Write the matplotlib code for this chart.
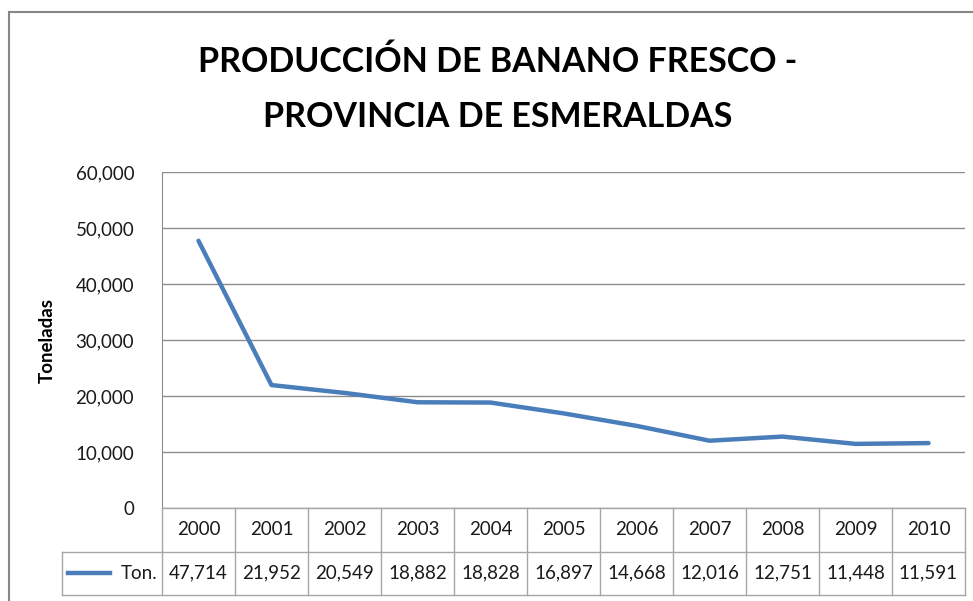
import matplotlib.pyplot as plt
from matplotlib.patches import Rectangle

years = ['2000', '2001', '2002', '2003', '2004', '2005', '2006', '2007', '2008', '2009', '2010']
ton = [47714, 21952, 20549, 18882, 18828, 16897, 14668, 12016, 12751, 11448, 11591]
y_ticks = [0, 10000, 20000, 30000, 40000, 50000, 60000]

plt.rcParams['font.family'] = ['Lato', 'DejaVu Sans']

W, H = 973, 601
fig = plt.figure(figsize=(W / 100, H / 100), dpi=100)

def fx(px):
    return px / W

def fy(py):
    return 1 - py / H

line_col = '#4A7EBB'
grid_col = '#8C8C8C'
tab_col = '#A6A6A6'
txt_col = '#1A1A1A'

# chart area border
fig.patches.append(Rectangle((fx(9), fy(H + 20)), fx(W + 20), (H + 20 - 12) / H,
                             transform=fig.transFigure, fill=False,
                             edgecolor='#868686', linewidth=1.5))

fig.text(fx(498), fy(62), 'PRODUCCIÓN DE BANANO FRESCO -', ha='center', va='center',
         fontsize=24.5, fontweight='bold', color='black')
fig.text(fx(498), fy(117), 'PROVINCIA DE ESMERALDAS', ha='center', va='center',
         fontsize=24.5, fontweight='bold', color='black')

left, right, top, bottom = 162, 965, 172, 508
ax = fig.add_axes([fx(left), fy(bottom), (right - left) / W, (bottom - top) / H])
x = list(range(len(years)))
ax.plot(x, ton, color=line_col, linewidth=3.2, solid_capstyle='round')
ax.set_xlim(-0.5, len(years) - 0.5)
ax.set_ylim(0, 60000)
ax.set_yticks(y_ticks)
ax.set_yticklabels([f'{v:,}' for v in y_ticks], fontsize=13.5, color=txt_col)
ax.tick_params(axis='y', length=0, pad=20)
ax.set_xticks([])
ax.grid(axis='y', color=grid_col, linewidth=1)
for s in ['top', 'right', 'bottom']:
    ax.spines[s].set_visible(False)
ax.spines['left'].set_color(grid_col)
ax.set_ylabel('Toneladas', fontsize=13.5, fontweight='bold', labelpad=14, color='black')

# data table
tb = 595
tax = fig.add_axes([fx(left), fy(tb), (right - left) / W, (tb - bottom) / H], sharex=ax)
tax.axis('off')
n = len(years)
tax.plot([-0.5, n - 0.5], [1, 1], color=tab_col, lw=1, clip_on=False)
leg_left = -0.5 - (left - 62) / ((right - left) / n)
tax.plot([leg_left, n - 0.5], [0.5, 0.5], color=tab_col, lw=1, clip_on=False)
tax.plot([leg_left, n - 0.5], [0, 0], color=tab_col, lw=1, clip_on=False)
tax.plot([leg_left, leg_left], [0, 0.5], color=tab_col, lw=1, clip_on=False)
for i in range(n + 1):
    tax.plot([i - 0.5, i - 0.5], [0, 1], color=tab_col, lw=1, clip_on=False)
for i, (yr, v) in enumerate(zip(years, ton)):
    tax.text(i, 0.75, yr, ha='center', va='center', fontsize=13.5, color=txt_col)
    tax.text(i, 0.25, f'{v:,}', ha='center', va='center', fontsize=13.5, color=txt_col)
tax.plot([leg_left + 0.08, leg_left + 0.66], [0.25, 0.25], color=line_col, lw=3.2,
         clip_on=False)
tax.text(-0.56, 0.25, 'Ton.', ha='right', va='center', fontsize=13.5, color=txt_col)
tax.set_ylim(0, 1)

fig.savefig('out.png', dpi=100)
